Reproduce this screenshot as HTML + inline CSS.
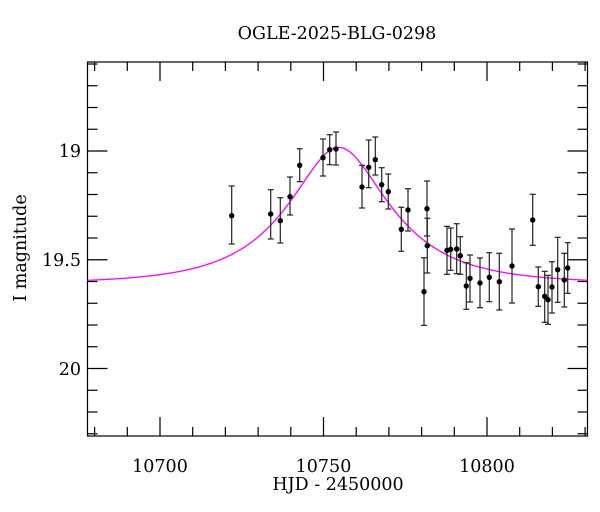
<!DOCTYPE html>
<html><head><meta charset="utf-8"><style>
html,body{margin:0;padding:0;background:#fff;}
svg{display:block;font-family:"DejaVu Serif","Liberation Serif",serif;}
</style></head><body>
<svg id="s" width="600" height="512" viewBox="0 0 600 512" xmlns="http://www.w3.org/2000/svg">
<rect width="600" height="512" fill="#fff"/>
<text x="337" y="39" font-size="17.5" text-anchor="middle">OGLE-2025-BLG-0298</text>
<text x="338" y="490" font-size="17.5" text-anchor="middle">HJD - 2450000</text>
<text transform="translate(26,248) rotate(-90)" font-size="17.5" text-anchor="middle">I magnitude</text>
<g font-size="17.5" text-anchor="end">
<text x="81" y="157">19</text>
<text x="81" y="266">19.5</text>
<text x="81" y="375">20</text>
</g>
<g font-size="17.5" text-anchor="middle">
<text x="160" y="472">10700</text>
<text x="323.5" y="472">10750</text>
<text x="487" y="472">10800</text>
</g>
<g id="ax" stroke="#000" stroke-width="1.2" fill="none"></g>
<path id="curve" fill="none" stroke="#ff00ff" stroke-width="1.3"/>
<g id="pts"></g>
</svg>
<script>
var L=87.5,R=587.5,T=62,B=436;
function X(t){return 160+(t-10700)*3.27;}
function Y(m){return 151+(m-19)*217.5;}
var ax=document.getElementById('ax'),h='';
h+='<rect x="'+L+'" y="'+T+'" width="'+(R-L)+'" height="'+(B-T)+'"/>';
for(var t=10680;t<=10830;t+=10){var x=X(t);if(x<L||x>R)continue;var len=(t%50==0)?19:9;
h+='<line x1="'+x+'" y1="'+B+'" x2="'+x+'" y2="'+(B-len)+'"/><line x1="'+x+'" y1="'+T+'" x2="'+x+'" y2="'+(T+len)+'"/>';}
for(var i=186;i<=203;i++){var m=i/10,y=Y(m);if(y<T||y>B)continue;var len=(i%5==0)?20:10;
h+='<line x1="'+L+'" y1="'+y+'" x2="'+(L+len)+'" y2="'+y+'"/><line x1="'+R+'" y1="'+y+'" x2="'+(R-len)+'" y2="'+y+'"/>';}
ax.innerHTML=h;
var t0=10754.7,tE=28,u0=0.5,fs=0.66,m0=19.61,d='';
for(var x=L;x<=R;x+=1){var t=10700+(x-160)/3.27,tau=(t-t0)/tE,u=Math.sqrt(u0*u0+tau*tau);
var A=(u*u+2)/(u*Math.sqrt(u*u+4));var m=m0-2.5*Math.log10(1+fs*(A-1));
d+=(x==L?'M':'L')+x.toFixed(1)+' '+Y(m).toFixed(2);}
document.getElementById('curve').setAttribute('d',d);
var P=[[231.7,215.7,186,244],[270.7,214,189.7,239],[280.3,220.7,197.7,243],[290,196.7,177,215],[299.7,165.3,148.7,181.7],
[323,157.7,139,176],[329.7,149.7,134.7,164.7],[336,149,132,165],[362,187,165.3,208],[368.7,167.3,140,187.7],[375.3,159.7,137,175],
[381.7,184.7,167.7,201.7],[388.3,191.7,174,209],[401.3,229.3,207.3,251.3],[408,210,188.7,231],[424,291.7,257.7,325.3],
[427,208.7,181,236],[427.3,245.7,218.3,273],[447,250.3,226.3,274.3],[450.7,249.3,228,270.3],[456.7,249,223.7,273.7],
[460.3,255.7,236.7,274.3],[466.3,286,262.7,309.3],[470,278.3,255,302],[480,283,258,307.7],[489.3,277.3,252.7,301.7],
[499.3,281.7,253.3,310],[512,266,229,303],[532.7,220,194.3,245.3],[538.3,286.7,267,306.3],[544.7,296.3,271.3,322.3],
[548,299.7,275.3,324.3],[552,287,261.7,313],[557.7,269.7,237.3,302.3],[564.3,280,253.3,307],[567.7,268,242.7,293.3]];
var g='';P.forEach(function(p){var x=p[0];
g+='<line x1="'+x+'" y1="'+p[2]+'" x2="'+x+'" y2="'+p[3]+'" stroke="#222" stroke-width="1.2"/>';
g+='<line x1="'+(x-3)+'" y1="'+p[2]+'" x2="'+(x+3)+'" y2="'+p[2]+'" stroke="#222" stroke-width="1.2"/>';
g+='<line x1="'+(x-3)+'" y1="'+p[3]+'" x2="'+(x+3)+'" y2="'+p[3]+'" stroke="#222" stroke-width="1.2"/>';
g+='<circle cx="'+x+'" cy="'+p[1]+'" r="2.7" fill="#000"/>';});
document.getElementById('pts').innerHTML=g;
</script>
</body></html>
